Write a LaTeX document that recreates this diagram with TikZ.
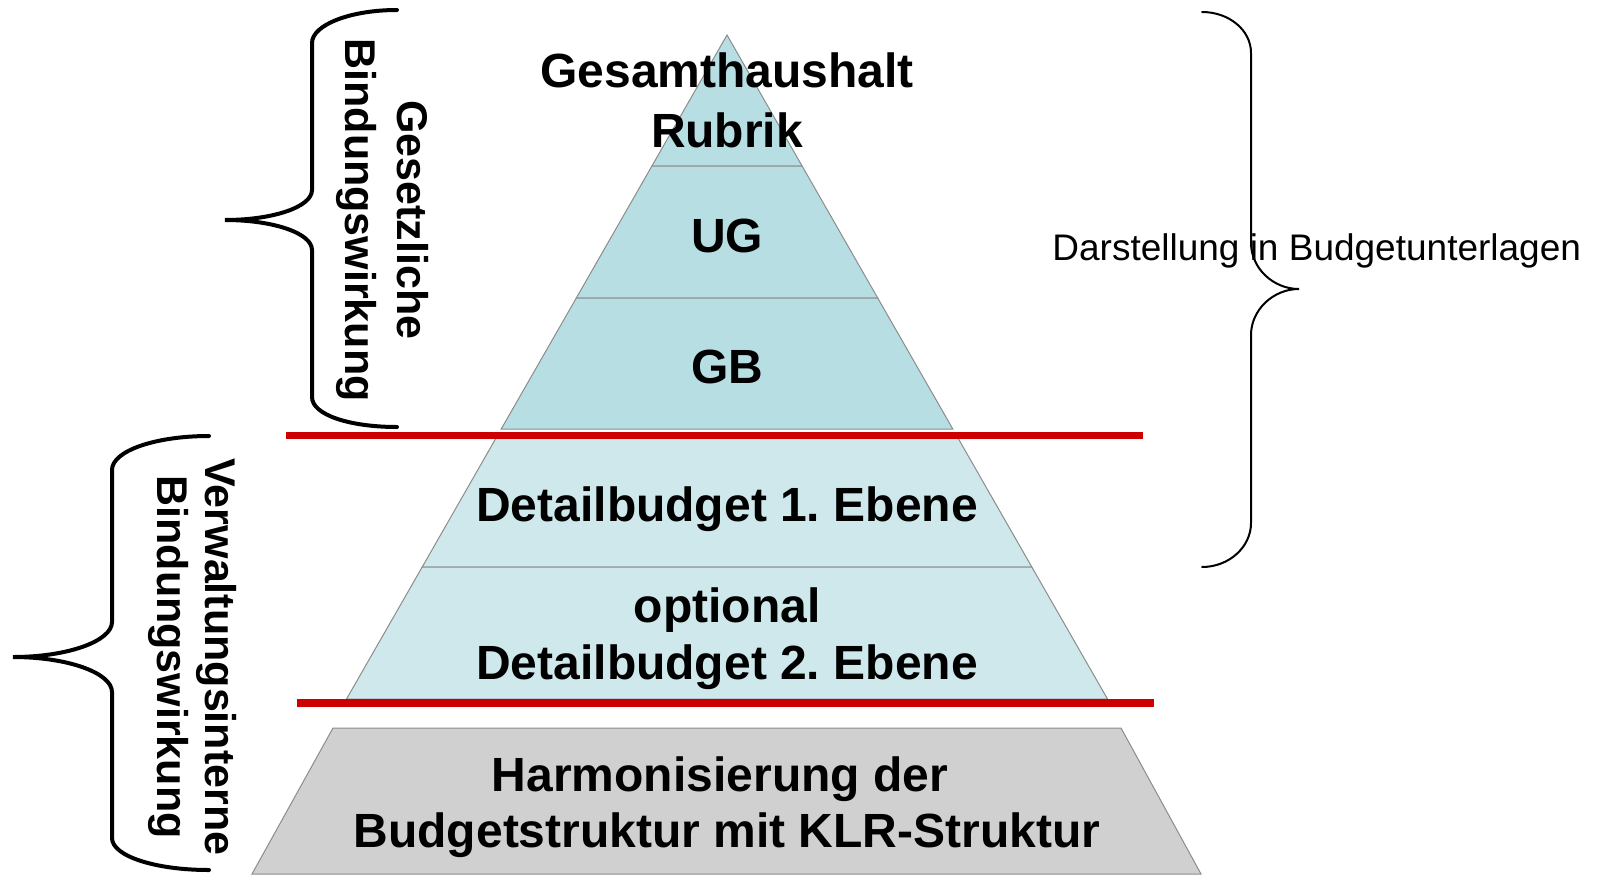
\documentclass[tikz,border=0pt]{standalone}
\usepackage{fontspec}
\setmainfont{Liberation Sans}
\definecolor{tealup}{RGB}{183,222,227}
\definecolor{teallow}{RGB}{207,232,235}
\definecolor{grayfill}{RGB}{208,208,208}
\definecolor{edgegray}{RGB}{140,140,140}
\definecolor{redline}{RGB}{204,0,0}
\frenchspacing
\begin{document}
\begin{tikzpicture}[x=0.5pt,y=-0.5pt,
  upsec/.style={fill=tealup,draw=edgegray,line width=0.5pt},
  lowsec/.style={fill=teallow,draw=edgegray,line width=0.5pt},
  basesec/.style={fill=grayfill,draw=edgegray,line width=0.5pt},
  sepline/.style={draw=redline,line width=3.6pt},
  bracethick/.style={draw=black,line width=2pt,line cap=round},
  bracethin/.style={draw=black,line width=1pt,line cap=round},
  lvl/.style={font=\bfseries\fontsize{24}{28}\selectfont,anchor=base,inner sep=0pt},
  sidetxt/.style={font=\bfseries\fontsize{21.5}{25}\selectfont,anchor=base,inner sep=0pt,rotate=-90},
  plaintxt/.style={font=\fontsize{18.5}{22}\selectfont,anchor=base west,inner sep=0pt}]
\useasboundingbox (0,0) rectangle (1598,878);
% pyramid sections
\draw[upsec] (727,35) -- (802.1,166) -- (651.9,166) -- cycle;
\draw[upsec] (651.9,166) -- (802.1,166) -- (877.7,298) -- (576.3,298) -- cycle;
\draw[upsec] (576.3,298) -- (877.7,298) -- (952.8,429) -- (501.2,429) -- cycle;
\draw[lowsec] (498.9,433) -- (955.1,433) -- (1031.8,567) -- (422.2,567) -- cycle;
\draw[lowsec] (422.2,567) -- (1031.8,567) -- (1107.5,699) -- (346.5,699) -- cycle;
\draw[basesec] (333,728) -- (1121,728) -- (1201,874) -- (252,874) -- cycle;
% red separators
\coordinate (r1a) at (286,435.5);
\coordinate (r1b) at (1143,435.5);
\coordinate (r2a) at (297,703);
\coordinate (r2b) at (1154,703);
\draw[sepline] (r1a) -- (r1b);
\draw[sepline] (r2a) -- (r2b);
% braces
\draw[bracethick] (397,10) .. controls (350,10) and (312,25) .. (312,43) -- (312,190)
  .. controls (312,207) and (273,220) .. (225,220)
  .. controls (273,220) and (312,233) .. (312,250) -- (312,397)
  .. controls (312,415) and (350,427) .. (397,427);
\draw[bracethick] (209,436) .. controls (155,436) and (112,451) .. (112,470) -- (112,622)
  .. controls (112,641) and (68,657) .. (13,657)
  .. controls (68,657) and (112,673) .. (112,692) -- (112,838)
  .. controls (112,856) and (155,870) .. (209,870);
\draw[bracethin] (1202,12) .. controls (1229,12) and (1251,30) .. (1251,53) -- (1251,243)
  .. controls (1251,268) and (1273,289) .. (1299,289)
  .. controls (1273,289) and (1251,310) .. (1251,335) -- (1251,523)
  .. controls (1251,547) and (1229,567) .. (1202,567);
% level texts
\node[lvl] (t1) at (727,87) {Gesamthaushalt};
\node[lvl] (t2) at (727,147) {Rubrik};
\node[lvl] (ug) at (727,252) {UG};
\node[lvl] (gb) at (727,383) {GB};
\node[lvl] (db1) at (727,521) {Detailbudget 1. Ebene};
\node[lvl] (opt) at (727,622) {optional};
\node[lvl] (db2) at (727,679) {Detailbudget 2. Ebene};
\node[lvl] (h1) at (720,791) {Harmonisierung der};
\node[lvl] (h2) at (727,847) {Budgetstruktur mit KLR-Struktur};
% side texts
\node[sidetxt] (g1) at (397,220) {Gesetzliche};
\node[sidetxt] (g2) at (345,220) {Bindungswirkung};
\node[sidetxt] (v1) at (205,657) {Verwaltungsinterne};
\node[sidetxt] (v2) at (157,657) {Bindungswirkung};
\node[plaintxt] (dar) at (1052,260) {Darstellung in Budgetunterlagen};
\end{tikzpicture}
\end{document}
